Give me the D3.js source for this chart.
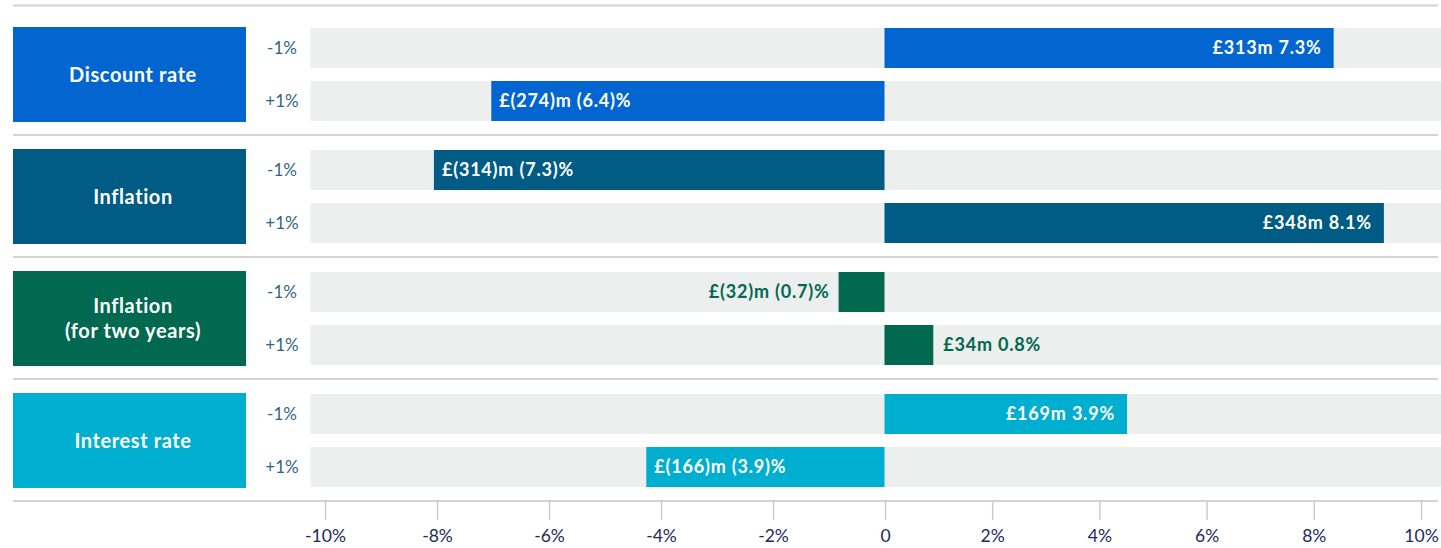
<!DOCTYPE html>
<html>
<head>
<meta charset="utf-8">
<script src="https://cdn.jsdelivr.net/npm/d3@7"></script>
<style>
  html, body { margin: 0; padding: 0; background: #ffffff; }
  svg { display: block; font-family: Lato, "Open Sans", sans-serif; }
</style>
</head>
<body>
<svg id="chart" width="1441" height="548"></svg>
<script>
// ---- data ----
const groups = ["Discount rate", "Inflation", "Inflation\n(for two years)", "Interest rate"];
const scenarios = ["-1%", "+1%"];
const groupColors = ["#0366d0", "#005b85", "#006950", "#00aecf"];
// £m impact per group: [-1%, +1%]
const discountM = [313, -274];
const inflationM = [-314, 348];
const inflation2yM = [-32, 34];
const interestM = [169, -166];
// % impact per group: [-1%, +1%]
const discountPct = [7.3, -6.4];
const inflationPct = [-7.3, 8.1];
const inflation2yPct = [-0.7, 0.8];
const interestPct = [3.9, -3.9];
const axisTicks = [-10, -8, -6, -4, -2, 0, 2, 4, 6, 8, 10];

const mByGroup = [discountM, inflationM, inflation2yM, interestM];
const pctByGroup = [discountPct, inflationPct, inflation2yPct, interestPct];

const rows = [];
groups.forEach((g, gi) => {
  scenarios.forEach((s, si) => {
    rows.push({ group: g, gi, scen: s, m: mByGroup[gi][si], pct: pctByGroup[gi][si] });
  });
});

function fmt(d) {
  if (d.m >= 0) return `£${d.m}m ${d.pct}%`;
  return `£(${-d.m})m (${-d.pct})%`;
}

const svg = d3.select("#chart");

// scales
const yGroup = d3.scaleBand().domain(groups).range([27, 488]).paddingInner(27 / 122).paddingOuter(0);
const yRow = d3.scaleBand().domain(scenarios).range([1, 94]).paddingInner(13 / 53).paddingOuter(0);
const xM = d3.scaleLinear().domain([-400, 400]).range([310.5, 1458.5]);
const xAxisScale = d3.scaleLinear().domain([-10, 0, 10]).range([325, 885, 1421]);

// separator lines
const sepY = [5.5].concat(groups.map(g => yGroup(g) + 108));
svg.append("g").selectAll("line").data(sepY).join("line")
  .attr("x1", 13).attr("x2", 1438)
  .attr("y1", d => d).attr("y2", d => d)
  .attr("stroke", "#d3d3d3").attr("stroke-width", 2);

// group boxes
const gBox = svg.append("g").selectAll("g").data(groups).join("g");
gBox.append("rect")
  .attr("x", 13).attr("width", 233)
  .attr("y", d => yGroup(d)).attr("height", yGroup.bandwidth())
  .attr("fill", (d, i) => groupColors[i]);
gBox.each(function (d) {
  const lines = d.split("\n");
  const cy = yGroup(d) + yGroup.bandwidth() / 2;
  const lh = 25;
  const t = d3.select(this).append("text")
    .attr("text-anchor", "middle")
    .attr("fill", "#ffffff")
    .attr("font-size", 20)
    .attr("letter-spacing", 0.6)
    .attr("font-weight", 700);
  lines.forEach((ln, k) => {
    t.append("tspan")
      .attr("x", 133)
      .attr("y", cy + (k - (lines.length - 1) / 2) * lh)
      .attr("dy", "0.35em")
      .text(ln);
  });
});

// rows
const rowG = svg.append("g").selectAll("g").data(rows).join("g")
  .attr("transform", d => `translate(0,${yGroup(d.group) + yRow(d.scen)})`);

rowG.append("text")
  .attr("x", 282).attr("y", yRow.bandwidth() / 2).attr("dy", "0.35em")
  .attr("text-anchor", "middle")
  .attr("fill", "#2f6585")
  .attr("font-size", 17)
  .text(d => d.scen);

rowG.append("rect")
  .attr("x", xM(-400)).attr("width", xM(400) - xM(-400))
  .attr("y", 0).attr("height", yRow.bandwidth())
  .attr("fill", "#edeeee");

rowG.append("rect")
  .attr("x", d => Math.min(xM(0), xM(d.m)))
  .attr("width", d => Math.abs(xM(d.m) - xM(0)))
  .attr("y", 0).attr("height", yRow.bandwidth())
  .attr("fill", d => groupColors[d.gi]);

rowG.append("text")
  .attr("y", yRow.bandwidth() / 2).attr("dy", "0.36em")
  .attr("font-size", 18)
  .attr("letter-spacing", 0.8)
  .attr("font-weight", 700)
  .text(fmt)
  .each(function (d) {
    const el = d3.select(this);
    const w = this.getComputedTextLength();
    const barW = Math.abs(xM(d.m) - xM(0));
    const inside = barW > w + 24;
    if (d.m >= 0) {
      if (inside) el.attr("x", xM(d.m) - 12).attr("text-anchor", "end").attr("fill", "#fff");
      else el.attr("x", xM(d.m) + 10).attr("text-anchor", "start").attr("fill", groupColors[d.gi]);
    } else {
      if (inside) el.attr("x", xM(d.m) + 8).attr("text-anchor", "start").attr("fill", "#fff");
      else el.attr("x", xM(d.m) - 9).attr("text-anchor", "end").attr("fill", groupColors[d.gi]);
    }
  });

// axis
const axis = d3.axisBottom(xAxisScale)
  .tickValues(axisTicks)
  .tickSize(18)
  .tickPadding(10)
  .tickFormat(d => d === 0 ? "0" : d + "%");
const ax = svg.append("g").attr("transform", "translate(0,502)").call(axis);
ax.select(".domain").remove();
ax.selectAll(".tick line").attr("stroke", "#cccccc").attr("stroke-width", 1.5);
ax.selectAll(".tick text")
  .attr("fill", "#1c2b5a")
  .attr("font-size", 17.5)
  .attr("font-family", "Lato, sans-serif");
</script>
</body>
</html>
